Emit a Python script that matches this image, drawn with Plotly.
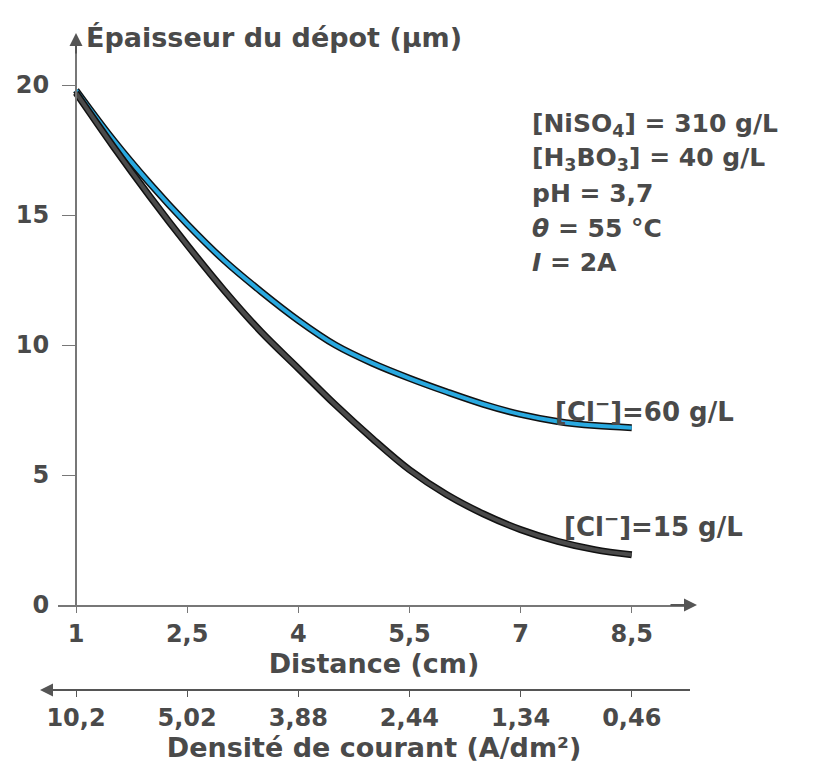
import plotly.graph_objects as go

# ---- data ----
distance = [1, 1.5, 2, 2.5, 3, 3.5, 4, 4.5, 5, 5.5, 6, 6.5, 7, 7.5, 8, 8.5]
cl60 = [19.8, 17.9, 16.2, 14.65, 13.25, 12.05, 10.95, 10.0, 9.3, 8.72, 8.2, 7.72, 7.33, 7.06, 6.9, 6.82]
cl15 = [19.7, 17.65, 15.7, 13.85, 12.1, 10.5, 9.1, 7.7, 6.4, 5.2, 4.25, 3.5, 2.9, 2.45, 2.13, 1.93]

dist_ticks = [1, 2.5, 4, 5.5, 7, 8.5]
dist_labels = ["1", "2,5", "4", "5,5", "7", "8,5"]
dens_labels = ["10,2", "5,02", "3,88", "2,44", "1,34", "0,46"]
y_ticks = [0, 5, 10, 15, 20]
conditions = ["[NiSO<sub>4</sub>] = 310 g/L", "[H<sub>3</sub>BO<sub>3</sub>] = 40 g/L", "pH = 3,7",
              "<i>θ</i> = 55 °C", "<i>I</i> = 2A"]

FONT = "DejaVu Sans, Liberation Sans, sans-serif"
TXT = "#4a4a4a"

# geometry (page pixel targets; the page body adds an 8px offset)
OFF = 8
W, H = 832, 771
L, R = 58 - OFF, 690 - OFF          # plot-area pixels in figure coords
T, B = 35 - OFF, 690 - OFF
x0_px, px_per_unit = 76 - OFF, 74.1
xmin = 1 + (L - x0_px) / px_per_unit
xmax = 1 + (R - x0_px) / px_per_unit
y0_px, py_per_unit = 605 - OFF, 26.0
ymax = (y0_px - T) / py_per_unit
ydom0 = (B - y0_px) / (B - T)


def px(xp):  # page pixel -> paper x
    return (xp - OFF - L) / (R - L)


def py(yp):  # page pixel -> paper y
    return (B - (yp - OFF)) / (B - T)


fig = go.Figure()
for ys, col in [(cl60, "#29a9e0"), (cl15, "#4a4a4a")]:
    fig.add_trace(go.Scatter(x=distance, y=ys, mode="lines", line=dict(color="#111", width=7, shape="spline"),
                             hoverinfo="skip", showlegend=False))
    fig.add_trace(go.Scatter(x=distance, y=ys, mode="lines", line=dict(color=col, width=4, shape="spline"),
                             showlegend=False))
# invisible trace on xaxis2 so it renders
fig.add_trace(go.Scatter(x=[xmin], y=[0], xaxis="x2", mode="markers", marker=dict(opacity=0),
                         hoverinfo="skip", showlegend=False))

fig.update_layout(
    width=W, height=H, margin=dict(l=L, r=W - R, t=T, b=H - B, autoexpand=False),
    paper_bgcolor="white", plot_bgcolor="white",
    font=dict(family=FONT, color=TXT, size=24, weight="bold"),
    xaxis=dict(range=[xmin, xmax], tickvals=dist_ticks, ticktext=dist_labels, showgrid=False, zeroline=False,
               showline=True, linecolor="#777", linewidth=2, ticks="outside", ticklen=6, tickcolor="#777",
               anchor="y", tickfont=dict(size=24), automargin=False,
               title=dict(text="Distance (cm)", font=dict(size=27), standoff=0)),
    xaxis2=dict(range=[xmin, xmax], tickvals=dist_ticks, ticktext=dens_labels, overlaying="x", side="bottom",
                anchor="free", position=0, showgrid=False, zeroline=False, showline=True, linecolor="#555",
                linewidth=2, ticks="outside", ticklen=6, tickcolor="#555", tickfont=dict(size=24),
                automargin=False,
                title=dict(text="Densité de courant (A/dm²)", font=dict(size=27), standoff=0)),
    yaxis=dict(range=[0, ymax], domain=[ydom0, 1], tickvals=y_ticks, showgrid=False, zeroline=False,
               showline=True, linecolor="#777", linewidth=2, ticks="outside", ticklen=13, tickcolor="#777",
               ticklabelstandoff=8,
               anchor="free", position=(x0_px - L) / (R - L), tickfont=dict(size=24), automargin=False),
)

ann = []
arrow = dict(showarrow=True, arrowhead=2, arrowsize=1.3, arrowwidth=2, arrowcolor="#555", text="",
             xref="paper", yref="paper")
ann.append(dict(arrow, x=px(697), y=py(605), ax=-28, ay=0))
ann.append(dict(arrow, x=px(76), y=py(33), ax=0, ay=22))
ann.append(dict(arrow, x=px(40), y=0, ax=30, ay=0))
# y-axis title
ann.append(dict(x=px(84), y=py(37), xref="paper", yref="paper", xanchor="left", yanchor="middle",
                showarrow=False, text="Épaisseur du dépot (µm)", font=dict(size=27)))
# conditions, one line each
for txt, yy in zip(conditions, [125, 159, 193, 228, 262]):
    ann.append(dict(x=px(530), y=py(yy), xref="paper", yref="paper", xanchor="left", yanchor="middle",
                    align="left", showarrow=False, text=txt, font=dict(size=25)))
ann.append(dict(x=px(553), y=py(410), xref="paper", yref="paper", xanchor="left", yanchor="middle",
                showarrow=False, text="[Cl<sup>−</sup>]=60 g/L", font=dict(size=26)))
ann.append(dict(x=px(562), y=py(525), xref="paper", yref="paper", xanchor="left", yanchor="middle",
                showarrow=False, text="[Cl<sup>−</sup>]=15 g/L", font=dict(size=26)))
fig.update_layout(annotations=ann)

fig.write_html("out.html")
